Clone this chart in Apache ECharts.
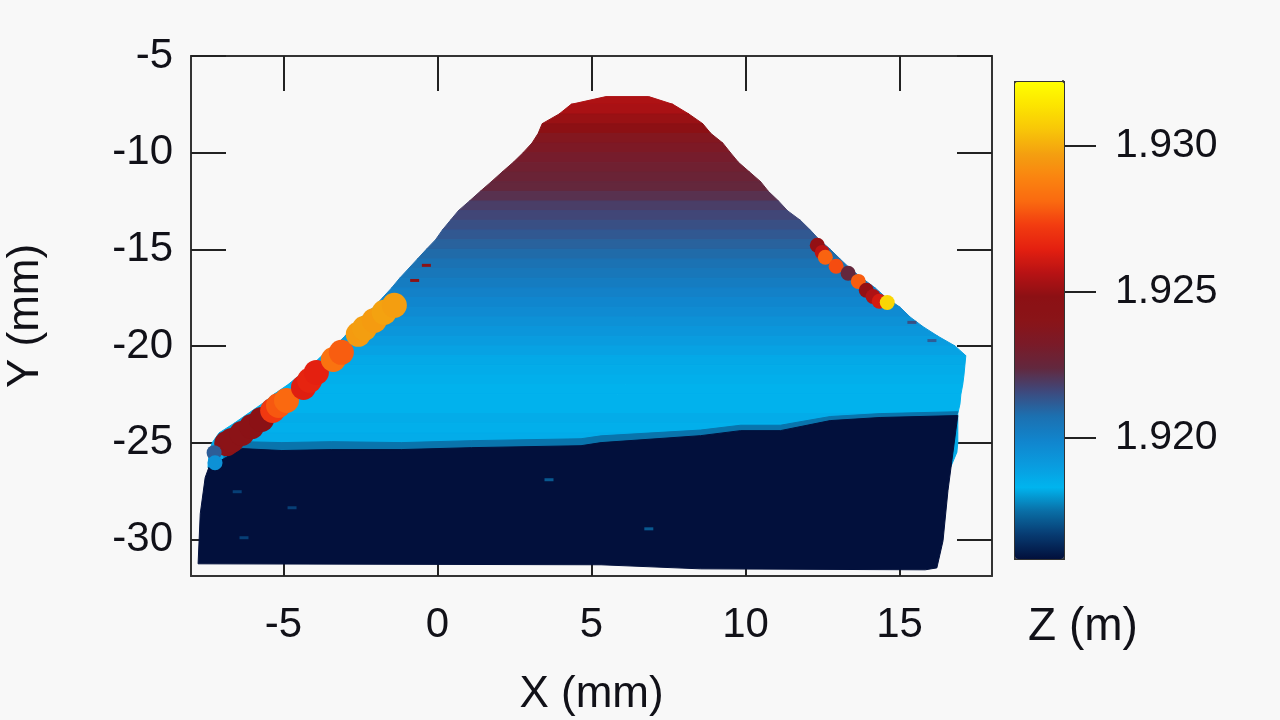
<!DOCTYPE html>
<html><head><meta charset="utf-8">
<style>html,body{margin:0;padding:0;background:#f8f8f8}#c{width:1280px;height:720px;filter:blur(0.6px)}</style>
<script src="https://cdn.jsdelivr.net/npm/echarts@6/dist/echarts.min.js"></script>
</head><body><div id="c"></div>
<script>
const xTicks=[-5,0,5,10,15];
const yTicks=[-5,-10,-15,-20,-25,-30];
const zTicks=[1.920,1.925,1.930];
const levelY=[-7.1,-7.5,-8,-8.5,-9,-9.5,-10,-10.5,-11,-11.5,-12,-12.5,-13,-13.5,-14,-14.5,-15,-15.5,-16,-16.5,-17,-17.5,-18,-18.5,-19,-19.5,-20,-20.5,-21,-21.5,-22,-22.5,-23,-23.5,-24,-24.5,-25,-25.5,-26.3];
const levelLeft=[5.47,4.34,3.95,3.40,3.27,3.07,2.78,2.46,2.10,1.75,1.39,1.04,0.68,0.42,0.16,-0.06,-0.36,-0.65,-0.94,-1.23,-1.49,-1.78,-2.07,-2.46,-2.72,-3.01,-3.33,-3.75,-4.08,-4.47,-4.85,-5.31,-5.70,-6.15,-6.60,-7.09,-7.31,-7.41,-7.45];
const levelRight=[6.86,7.64,8.16,8.61,8.87,9.26,9.51,9.77,10.13,10.49,10.74,11.07,11.36,11.78,12.10,12.39,12.75,13.07,13.40,13.79,14.21,14.56,15.02,15.34,15.76,16.25,16.80,17.15,17.12,17.09,17.05,16.99,16.96,16.89,16.89,16.89,16.89,16.86,16.65];
const bandZ=[1.9255,1.9254,1.9251,1.9248,1.9237,1.9234,1.9231,1.9229,1.9227,1.9225,1.9222,1.9219,1.9217,1.9215,1.9213,1.9211,1.9209,1.9207,1.9205,1.9203,1.9201,1.9199,1.9197,1.9195,1.9193,1.9191,1.9189,1.9187,1.9186,1.9185,1.9184,1.9184,1.9184,1.9186,1.9185,1.9186,1.9187,1.9186];
const shelfX=[-6.93,-6.34,-5.05,-3.43,-1.17,1.10,4.66,5.31,8.54,9.84,11.13,12.75,14.37,16.89,16.6,-6.93];
const shelfY=[-25.45,-24.95,-25.0,-24.95,-25.0,-24.9,-24.8,-24.65,-24.35,-24.1,-24.1,-23.65,-23.5,-23.4,-25,-26];
const floorX=[-7.77,-7.70,-7.54,-7.41,-6.93,-6.34,-5.05,-3.43,-1.17,1.10,4.66,5.31,8.54,9.84,11.13,12.75,14.37,16.89,16.57,16.41,16.21,15.83,8.54,5.31];
const floorY=[-31.27,-28.68,-26.81,-26.24,-25.83,-25.31,-25.41,-25.36,-25.36,-25.26,-25.16,-25.00,-24.64,-24.38,-24.38,-23.86,-23.70,-23.60,-27.49,-30.08,-31.48,-31.58,-31.53,-31.32];
const layerZ=[1.9176,1.9159];
const leftHotX=[-6.84,-6.68,-6.35,-6.03,-5.71,-5.35,-5.16,-4.90,-4.35,-4.15,-3.93,-3.38,-3.12,-2.57,-2.37,-2.05,-1.73,-1.40];
const leftHotY=[-25.05,-24.89,-24.53,-24.17,-23.80,-23.34,-23.08,-22.82,-22.15,-21.78,-21.37,-20.70,-20.33,-19.40,-19.09,-18.68,-18.26,-17.90];
const leftHotZ=[1.9242,1.9243,1.9243,1.9244,1.9246,1.9272,1.9278,1.9281,1.9264,1.9266,1.9265,1.9284,1.9279,1.9296,1.9297,1.9296,1.9298,1.9297];
const rightHotX=[-7.25,-7.22,12.33,12.49,12.59,12.94,13.33,13.66,13.92,14.14,14.34,14.60];
const rightHotY=[-25.52,-26.04,-14.79,-15.16,-15.41,-15.88,-16.24,-16.66,-17.12,-17.44,-17.69,-17.75];
const rightHotZ=[1.9212,1.9195,1.9250,1.9258,1.9280,1.9276,1.9225,1.9279,1.9250,1.9255,1.9262,1.9310];
const speckX=[3.62,6.86,-4.72,-6.28,-6.50,-0.74,-0.36,15.40,16.05];
const speckY=[-26.92,-29.46,-28.37,-29.92,-27.54,-16.61,-15.83,-18.78,-19.72];
const speckZ=[1.9172,1.9172,1.9168,1.9168,1.9168,1.9245,1.9245,1.9215,1.9212];
const colorStops=['#02103c','#073a70','#0a6ea6','#00b4ee','#0a9ade','#1184cc','#1c70b0','#3d4a7e','#62283e','#7a1a28','#8a1418','#8c1014','#b81214','#e42010','#f23c10','#fa6a10','#fa8410','#f4a010','#f8c608','#fce400','#ffff00'];
const zMin=1.9159, zMax=1.9322;

const ink='#111118', font='"Liberation Sans",Arial,sans-serif', fs=42;
const poly=(api,xs,ys)=>({type:'polygon',shape:{points:xs.map((x,i)=>api.coord([x,ys[i]]))},
  style:{fill:api.visual('color'),stroke:api.visual('color'),lineWidth:1}});
const tick=(v,len)=>({show:true,inside:true,length:len,customValues:v,lineStyle:{color:'#222',width:2}});
const line={show:true,onZero:false,lineStyle:{color:'#333',width:2}};
const label=(v,m)=>({show:true,customValues:v,margin:m,color:ink,fontFamily:font,fontSize:fs,hideOverlap:false,showMinLabel:true,showMaxLabel:true});
const nameStyle={color:ink,fontFamily:font,fontSize:44};

const chart=echarts.init(document.getElementById('c'),null,{renderer:'canvas',width:1280,height:720});
chart.setOption({
  animation:false,backgroundColor:'#f8f8f8',
  grid:[{left:191,top:56,width:801,height:520,outerBoundsMode:'none'},{left:1063,top:81,width:33,height:477,outerBoundsMode:'none'}],
  xAxis:[
    {gridIndex:0,type:'value',min:-8,max:18,position:'bottom',axisLine:line,axisTick:tick(xTicks,35),axisLabel:label(xTicks,28),splitLine:{show:false},
     name:'X (mm)',nameLocation:'middle',nameGap:97,nameTextStyle:nameStyle},
    {gridIndex:0,type:'value',min:-8,max:18,position:'top',axisLine:line,axisTick:tick(xTicks,35),axisLabel:{show:false},splitLine:{show:false}},
    {gridIndex:1,type:'value',min:0,max:1,show:false}
  ],
  yAxis:[
    {gridIndex:0,type:'value',min:-31.9,max:-5,position:'left',axisLine:line,axisTick:tick(yTicks,35),axisLabel:label(yTicks,18),splitLine:{show:false},
     name:'Y (mm)',nameLocation:'middle',nameGap:143,nameRotate:90,nameTextStyle:nameStyle},
    {gridIndex:0,type:'value',min:-31.9,max:-5,position:'right',axisLine:line,axisTick:tick(yTicks,35),axisLabel:{show:false},splitLine:{show:false}},
    {gridIndex:1,type:'value',min:zMin,max:zMax,position:'left',axisLine:{show:true,lineStyle:{color:'#333',width:2}},splitLine:{show:false},
     axisTick:{show:true,inside:true,length:33,customValues:zTicks,lineStyle:{color:'#222',width:2}},
     axisLabel:{show:true,inside:true,customValues:zTicks,margin:52,color:ink,fontFamily:font,fontSize:41,formatter:v=>Number(v).toFixed(3)}}
  ],
  visualMap:[{type:'continuous',min:zMin,max:zMax,dimension:2,seriesIndex:[0,1,2,3,4],calculable:false,realtime:false,
    left:1014,top:81,itemWidth:49,itemHeight:477,padding:0,text:null,showLabel:false,borderColor:'#333',borderWidth:2,
    inRange:{color:colorStops}}],
  graphic:[{type:'text',left:1028,top:604,style:{text:'Z (m)',fontFamily:font,fontSize:46,fill:ink}}],
  series:[
    {type:'custom',coordinateSystem:'cartesian2d',xAxisIndex:0,yAxisIndex:0,silent:true,clip:false,
     data:bandZ.map((z,i)=>[i,0,z]),
     renderItem:(p,api)=>{const i=api.value(0);
       return poly(api,[levelLeft[i],levelRight[i],levelRight[i+1],levelLeft[i+1]],[levelY[i],levelY[i],levelY[i+1],levelY[i+1]]);}},
    {type:'custom',coordinateSystem:'cartesian2d',xAxisIndex:0,yAxisIndex:0,silent:true,clip:false,
     data:layerZ.map((z,i)=>[i,0,z]),
     renderItem:(p,api)=>api.value(0)===0?poly(api,shelfX,shelfY):poly(api,floorX,floorY)},
    {type:'scatter',xAxisIndex:0,yAxisIndex:0,silent:true,symbol:'circle',symbolSize:25,itemStyle:{opacity:1},
     data:leftHotX.map((x,i)=>[x,leftHotY[i],leftHotZ[i]])},
    {type:'scatter',xAxisIndex:0,yAxisIndex:0,silent:true,symbol:'circle',symbolSize:15,itemStyle:{opacity:1},
     data:rightHotX.map((x,i)=>[x,rightHotY[i],rightHotZ[i]])},
    {type:'scatter',xAxisIndex:0,yAxisIndex:0,silent:true,symbol:'rect',symbolSize:[9,3],itemStyle:{opacity:1},
     data:speckX.map((x,i)=>[x,speckY[i],speckZ[i]])}
  ]
});
</script></body></html>
